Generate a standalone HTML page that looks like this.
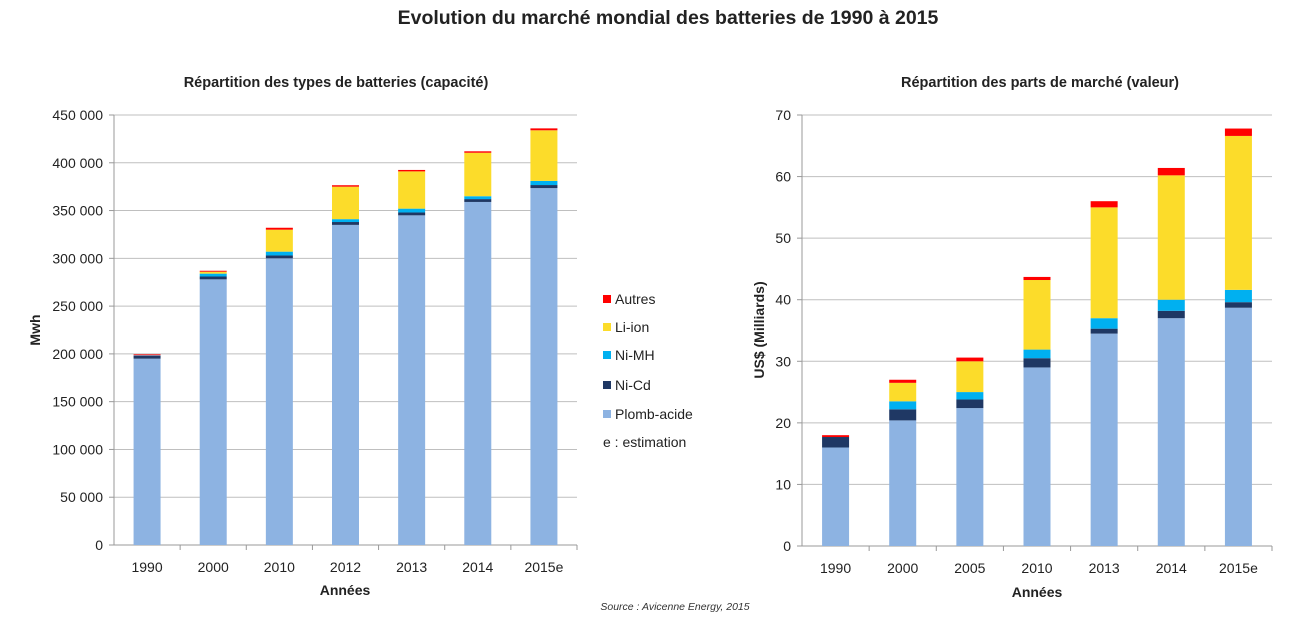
<!DOCTYPE html>
<html><head><meta charset="utf-8"><style>
body{margin:0;background:#fff;}
svg{display:block;font-family:"Liberation Sans",sans-serif;}
</style></head><body>
<svg id="s" width="1304" height="627" xmlns="http://www.w3.org/2000/svg">
<text x="668" y="24" text-anchor="middle" font-size="19.5" font-weight="bold" fill="#222">Evolution du marché mondial des batteries de 1990 à 2015</text>
<text x="336" y="87" text-anchor="middle" font-size="14.5" font-weight="bold" fill="#222">Répartition des types de batteries (capacité)</text>
<text x="1040" y="87" text-anchor="middle" font-size="14.5" font-weight="bold" fill="#222">Répartition des parts de marché (valeur)</text>
<text x="40" y="330" text-anchor="middle" font-size="14" font-weight="bold" fill="#222" transform="rotate(-90 40 330)">Mwh</text>
<text x="764" y="330" text-anchor="middle" font-size="14" font-weight="bold" fill="#222" transform="rotate(-90 764 330)">US$ (Milliards)</text>
<text x="345" y="595" text-anchor="middle" font-size="14" font-weight="bold" fill="#222">Années</text>
<text x="1037" y="597" text-anchor="middle" font-size="14" font-weight="bold" fill="#222">Années</text>
<text x="675" y="610" text-anchor="middle" font-size="10.5" font-style="italic" fill="#333">Source : Avicenne Energy, 2015</text>
<g font-size="14" fill="#222">
<rect x="603" y="295" width="8" height="8" fill="#ff0000"/><text x="615" y="304">Autres</text>
<rect x="603" y="323" width="8" height="8" fill="#fcdc2a"/><text x="615" y="332">Li-ion</text>
<rect x="603" y="351" width="8" height="8" fill="#00b0f0"/><text x="615" y="360">Ni-MH</text>
<rect x="603" y="381" width="8" height="8" fill="#1f3864"/><text x="615" y="390">Ni-Cd</text>
<rect x="603" y="410" width="8" height="8" fill="#8db3e2"/><text x="615" y="419">Plomb-acide</text>
<text x="603" y="447">e : estimation</text>
</g>
<g id="g"></g>
</svg>
<script>
var g=document.getElementById('g'),ns='http://www.w3.org/2000/svg';
function el(t,a,txt){var e=document.createElementNS(ns,t);for(var k in a)e.setAttribute(k,a[k]);if(txt!=null)e.textContent=txt;g.appendChild(e);return e;}
var cols=['#8db3e2','#1f3864','#00b0f0','#fcdc2a','#ff0000'];
function chart(o){
 var sc=(o.y0-o.y1)/o.max;
 for(var v=0;v<=o.max;v+=o.step){var y=o.y0-v*sc;
  if(v>0)el('line',{x1:o.x0,x2:o.x1,y1:y,y2:y,stroke:'#bfbfbf','stroke-width':1});
  el('line',{x1:o.x0-5,x2:o.x0,y1:y,y2:y,stroke:'#999'});
  el('text',{x:o.x0-11,y:y+5,'text-anchor':'end','font-size':14,fill:'#222'},o.fmt(v));}
 el('line',{x1:o.x0,x2:o.x0,y1:o.y1,y2:o.y0,stroke:'#999'});
 el('line',{x1:o.x0,x2:o.x1,y1:o.y0,y2:o.y0,stroke:'#999'});
 var n=o.cats.length,cw=(o.x1-o.x0)/n;
 for(var i=0;i<n;i++){var cx=o.x0+cw*(i+0.5),c=0;
  el('line',{x1:o.x0+cw*(i+1),x2:o.x0+cw*(i+1),y1:o.y0,y2:o.y0+5,stroke:'#999'});
  for(var j=0;j<5;j++){var h=o.data[i][j]*sc;if(h>0)el('rect',{x:cx-13.5,y:o.y0-(c+o.data[i][j])*sc,width:27,height:h,fill:cols[j]});c+=o.data[i][j];}
  el('text',{x:cx,y:o.y0+27,'text-anchor':'middle','font-size':14,fill:'#222'},o.cats[i]);}
}
chart({x0:114,x1:577,y0:545,y1:115,max:450000,step:50000,
 fmt:function(v){return v==0?'0':(v>=1000?(Math.floor(v/1000)+' 000'):v);},
 cats:['1990','2000','2010','2012','2013','2014','2015e'],
 data:[[195000,3000,500,0,1000],[278000,3000,3000,2000,1000],[300000,3000,4000,23000,2000],
 [335000,3000,3000,34000,1500],[345000,3000,4000,39000,1500],[359000,3000,3000,45500,1500],[373500,3200,4300,53000,2000]]});
chart({x0:802,x1:1272,y0:546,y1:115,max:70,step:10,fmt:function(v){return ''+v;},
 cats:['1990','2000','2005','2010','2013','2014','2015e'],
 data:[[16,1.7,0,0,0.3],[20.4,1.8,1.3,3,0.5],[22.4,1.4,1.2,5,0.6],[29,1.5,1.4,11.3,0.5],
 [34.5,0.8,1.7,18,1],[37,1.2,1.8,20.2,1.2],[38.7,0.9,2,25,1.2]]});
</script>
</body></html>
